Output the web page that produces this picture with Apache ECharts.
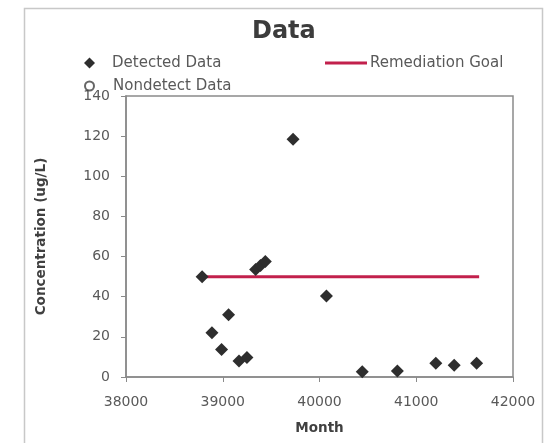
<!DOCTYPE html>
<html>
<head>
<meta charset="utf-8">
<script src="https://cdn.jsdelivr.net/npm/echarts@6/dist/echarts.min.js"></script>
<style>
html,body{margin:0;padding:0;background:#fff;}
#c{width:551px;height:443px;}
</style>
</head>
<body>
<div id="c"></div>
<script>
const detectedMonths = [38787, 38888, 38988, 39060, 39168, 39250, 39340, 39390, 39440, 39727, 40072, 40442, 40805, 41202, 41392, 41624];
const detectedValues = [50, 22, 13.7, 31, 8, 9.7, 53.5, 55.5, 57.5, 118.5, 40.3, 2.6, 3, 6.9, 5.9, 6.9];
const nondetectMonths = [];
const nondetectValues = [];
const goalMonths = [38787, 41650];
const goalValues = [50, 50];
const xTicks = [38000, 39000, 40000, 41000, 42000];
const yTicks = [0, 20, 40, 60, 80, 100, 120, 140];

const zip = (a, b) => a.map((v, i) => [v, b[i]]);
const FONT = 'DejaVu Sans';
const legendText = {fontFamily: FONT, fontSize: 15, color: '#595959', lineHeight: 18};
const chart = echarts.init(document.getElementById('c'), null, {renderer: 'canvas'});
chart.setOption({
  animation: false,
  backgroundColor: '#fff',
  graphic: [{
    type: 'rect', left: 22, top: 6, shape: {width: 518, height: 470},
    style: {fill: 'none', stroke: '#c8c8c8', lineWidth: 1.5}, silent: true
  }],
  title: {
    text: 'Data', left: 247, top: 15,
    textStyle: {fontFamily: FONT, fontSize: 24, fontWeight: 'bold', color: '#3c3c3c'}
  },
  legend: [
    {data: ['Detected Data'], left: 84, top: 54, padding: 0, icon: 'diamond', itemWidth: 11, itemHeight: 11,
     textStyle: Object.assign({}, legendText, {padding: [0, 0, 0, 12]})},
    {data: ['Nondetect Data'], left: 84, top: 77, padding: 0, icon: 'emptyCircle', itemWidth: 9, itemHeight: 9,
     textStyle: Object.assign({}, legendText, {padding: [0, 0, 0, 14]})},
    {data: ['Remediation Goal'], left: 325, top: 54, padding: 0, icon: 'rect', itemWidth: 42, itemHeight: 3,
     textStyle: Object.assign({}, legendText, {padding: [0, 0, 0, -2]})}
  ],
  grid: {left: 126, right: 38, top: 96, bottom: 66, show: true, borderColor: '#8a8a8a', borderWidth: 1.5, backgroundColor: '#fff'},
  xAxis: {
    type: 'value', min: xTicks[0], max: xTicks[xTicks.length - 1], interval: 1000,
    name: 'Month', nameLocation: 'middle', nameGap: 44,
    nameTextStyle: {fontFamily: FONT, fontSize: 13.5, fontWeight: 'bold', color: '#404040'},
    axisLine: {lineStyle: {color: '#8a8a8a', width: 1.5}},
    axisTick: {show: true, inside: false, length: 5, lineStyle: {color: '#8a8a8a'}},
    axisLabel: {fontFamily: FONT, fontSize: 14, color: '#595959', margin: 18, formatter: v => String(v)},
    splitLine: {show: false}
  },
  yAxis: {
    type: 'value', min: yTicks[0], max: yTicks[yTicks.length - 1], interval: 20,
    name: 'Concentration (ug/L)', nameLocation: 'middle', nameGap: 78,
    nameTextStyle: {fontFamily: FONT, fontSize: 13.5, fontWeight: 'bold', color: '#404040'},
    axisLine: {show: true, lineStyle: {color: '#8a8a8a', width: 1.5}},
    axisTick: {show: true, inside: false, length: 5, lineStyle: {color: '#8a8a8a'}},
    axisLabel: {fontFamily: FONT, fontSize: 14, color: '#595959', margin: 16},
    splitLine: {show: false}
  },
  series: [
    {name: 'Remediation Goal', type: 'line', data: zip(goalMonths, goalValues), symbol: 'none',
     lineStyle: {color: '#c2204c', width: 3}, itemStyle: {color: '#c2204c'}, z: 2},
    {name: 'Detected Data', type: 'scatter', data: zip(detectedMonths, detectedValues), symbol: 'diamond', symbolSize: 13,
     itemStyle: {color: '#2e2e2e', opacity: 1}, z: 3},
    {name: 'Nondetect Data', type: 'scatter', data: zip(nondetectMonths, nondetectValues), symbol: 'emptyCircle', symbolSize: 9,
     itemStyle: {color: '#404040', borderColor: '#404040', borderWidth: 1.5}, z: 3}
  ]
});
</script>
</body>
</html>
